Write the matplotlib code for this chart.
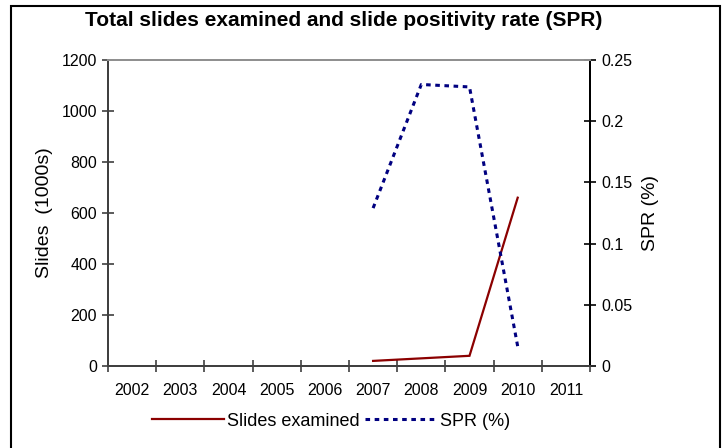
import matplotlib
matplotlib.use("Agg")
import matplotlib.pyplot as plt
from matplotlib.patches import Rectangle
import numpy as np

plt.rcParams['font.family'] = ['Liberation Sans', 'DejaVu Sans']

years = ['2002', '2003', '2004', '2005', '2006', '2007', '2008', '2009', '2010', '2011']
slide_years = ['2007', '2008', '2009', '2010']
slides = [20, 30, 40, 660]
spr_years = ['2007', '2008', '2009', '2010']
spr = [0.129, 0.230, 0.228, 0.016]

fig = plt.figure(figsize=(7.22, 4.48), dpi=100)
ax = fig.add_axes([108/722, 1-366/448, (590-108)/722, (366-60)/448])
ax2 = ax.twinx()

xs = [years.index(y) for y in slide_years]
xs2 = [years.index(y) for y in spr_years]
l1, = ax.plot(xs, slides, color='#8B0000', lw=1.6, solid_joinstyle='miter')
l2, = ax2.plot(xs2, spr, color='#000080', lw=2.2, linestyle=(0, (1.5, 1.5)))

ax.set_xlim(-0.5, len(years) - 0.5)
ax.set_ylim(0, 1200)
ax.set_yticks(np.arange(0, 1201, 200))
ax2.set_ylim(0, 0.25)
ax2.set_yticks([0, 0.05, 0.1, 0.15, 0.2, 0.25])
ax2.set_yticklabels(['0', '0.05', '0.1', '0.15', '0.2', '0.25'])

ax.set_xticks(range(len(years)))
ax.set_xticklabels(years)
ax.set_xticks(np.arange(-0.5, len(years)), minor=True)
ax.tick_params(axis='x', which='major', length=0, pad=12, labelsize=11.5)
ax.tick_params(axis='x', which='minor', direction='inout', length=8, width=1.2, color='#404040')
ax.tick_params(axis='y', direction='inout', length=8, width=1.2, color='#404040', labelsize=11.5, pad=4)
ax2.tick_params(axis='y', direction='inout', length=8, width=1.2, color='black', labelsize=11.5, pad=4)

for a in (ax, ax2):
    a.spines['top'].set_color('#909090')
    a.spines['left'].set_color('#404040')
    a.spines['bottom'].set_color('#404040')
    a.spines['right'].set_color('black')
    for s in a.spines.values():
        s.set_linewidth(1.4)

ax.set_ylabel('Slides  (1000s)', fontsize=14, labelpad=6)
ax2.set_ylabel('SPR (%)', fontsize=14, labelpad=7)
fig.text(344/722, 1-20/448, 'Total slides examined and slide positivity rate (SPR)',
         ha='center', va='center', fontsize=15, fontweight='bold')

leg = fig.legend([l1, l2], ['Slides examined', 'SPR (%)'], loc='center',
                 bbox_to_anchor=(331/722, 1-421/448), ncol=2, frameon=False,
                 fontsize=13, handlelength=4.0, columnspacing=0.3, handletextpad=0.15)

fig.patches.append(Rectangle((11/722, -0.05), (720-11)/722, 1.05 - 6/448,
                             transform=fig.transFigure, fill=False, ec='black', lw=1.5))

fig.savefig('out.png', dpi=100)
